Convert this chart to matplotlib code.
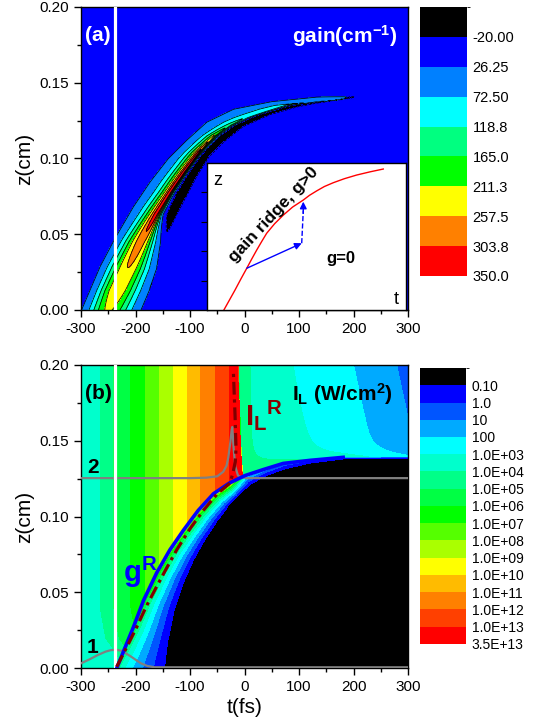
import numpy as np
import matplotlib
matplotlib.use("Agg")
import matplotlib.pyplot as plt
from matplotlib.cm import ScalarMappable
from matplotlib.colors import BoundaryNorm, ListedColormap
from matplotlib.ticker import FormatStrFormatter, MultipleLocator

plt.rcParams["font.family"] = ["Liberation Sans", "DejaVu Sans"]
plt.rcParams["mathtext.fontset"] = "custom"
plt.rcParams["mathtext.rm"] = "Liberation Sans"
plt.rcParams["mathtext.bf"] = "Liberation Sans:bold"
plt.rcParams["mathtext.it"] = "Liberation Sans:italic"
plt.rcParams["axes.unicode_minus"] = False

# ---- values (t in fs, z in cm) ----
# gain ridge g^R (blue line in b), also the backbone of the gain band in (a)
ridge_t = [-234.5, -220, -204, -185, -161, -137, -112, -85, -57, -28, 1, 35, 71, 120, 181]
ridge_z = [0.000, 0.013, 0.027, 0.045, 0.063, 0.078, 0.091, 0.104, 0.115, 0.122,
           0.127, 0.131, 0.135, 0.137, 0.139]
# ridge continued below the axis, only used to build the field of (b)
ridge_foot_t, ridge_foot_z = -249, -0.013

# intensity ridge I_L^R (dash-dot)
iridge_t = [-234.6, -216, -198, -180, -161, -143, -124.5, -100, -75.6, -50, -26.6,
            -21, -17, -15.6, -17.4, -20.5]
iridge_z = [0.001, 0.014, 0.027, 0.041, 0.054, 0.066, 0.078, 0.092, 0.104, 0.115,
            0.122, 0.129, 0.136, 0.145, 0.167, 0.196]

# gray pulse profiles 1 and 2
pulse1_t = [-300, -285, -269, -255, -245, -235, -225, -208, -198, -190, -178, -165, 300]
pulse1_z = [0.0033, 0.0058, 0.0088, 0.011, 0.012, 0.0122, 0.0115, 0.0077, 0.0052,
            0.0033, 0.0015, 0.0007, 0.0007]
pulse2_t = [-300, -100, -70, -50, -39, -33, -29.7, -26, -23.6, -22.4, -20, -17, -12,
            -5, 5, 300]
pulse2_z = [0.1253, 0.1253, 0.1256, 0.1265, 0.1295, 0.1335, 0.139, 0.149, 0.157,
            0.159, 0.145, 0.133, 0.127, 0.1257, 0.1253, 0.1253]

white_line_t = -238

# panel (a): leading (upper-left) and trailing (lower-right) edges of the gain band
band_left_t = [-299, -265, -238, -204, -173, -140, -106, -69, -20, 50, 132]
band_left_z = [0.0, 0.0286, 0.047, 0.068, 0.0846, 0.0998, 0.112, 0.124, 0.1325,
               0.1375, 0.1405]
band_right_t = [-190, -170, -149, -128, -106, -85, -63, -35, 0, 50, 100, 150, 206]
band_right_z = [0.0, 0.017, 0.035, 0.054, 0.0725, 0.088, 0.101, 0.111, 0.121, 0.129,
                0.134, 0.1375, 0.1403]
# at the ridge heights: peak gain, sharpness of the leading side, shift of the
# peak (fs), share of the trailing side over which the gain falls, negative lobe
gain_peak = [218, 250, 256, 285, 335, 348, 345, 330, 220, 150, 115, 95, 85, 70, 50]
gain_shape = [2, 2, 2, 1.7, 1.2, 1, 1, 1, 1, 1, 1.2, 1.4, 1.6, 1.8, 2]
gain_shift = [-16, -15, -11, -6, -2, 0, 0, 0, 0, 0, 0, 0, 0, 0, 0]
gain_fall = [1, 1, 0.95, 0.7, 0.3, 0.25, 0.25, 0.25, 0.25, 0.25, 0.25, 0.25, 0.25,
             0.25, 0.25]
gain_dip = [0, 0, 0, 5, 45, 90, 100, 110, 110, 110, 110, 100, 90, 70, 45]

# panel (b): boundary of the dark (I < 0.1) region
dark_t = [-143, -140, -131, -115, -94, -63, -27, 10, 50, 100, 150, 200, 300]
dark_z = [0.0, 0.0165, 0.036, 0.054, 0.071, 0.091, 0.108, 0.121, 0.129, 0.134,
          0.137, 0.1385, 0.139]
# log10 intensity just behind the ridge points (+ end at t=300)
ridge_logI = [5.0, 6.0, 7.0, 8.0, 8.7, 9.3, 9.9, 10.6, 11.5, 12.6, 4.0, 2.5, 1.5,
              1.0, 0.5, 0.2]
ridge_end_t, ridge_end_z = 300, 0.1395
# leading edge of the pulse: band edges along the top of (b)
lead_t = [-300, -264.5, -240, -208.3, -182.6, -156.3, -130, -104.3, -80, -53.5, -27.8, 0]
lead_logI = [3.4, 4, 5, 6, 7, 8, 9, 10, 11, 12, 13, 13.5]
# trailing part above the ridge
tail_t = [-60, 10, 89, 200, 279, 340]
tail_logI = [5.0, 4, 3, 2, 1, 0.4]
drop_z = [0.12, 0.134, 0.15, 0.2]
drop_t = [-2, -5, -7.7, -12]
low_z = [0, 0.01, 0.02, 0.04]
low_shift = [40, 30, 10, 0]

gain_bounds = [-66.25, -20, 26.25, 72.5, 118.75, 165, 211.25, 257.5, 303.75, 350]
gain_labels = ["-20.00", "26.25", "72.50", "118.8", "165.0", "211.3", "257.5",
               "303.8", "350.0"]
gain_colors = ["#000000", "#0000ff", "#0080ff", "#00ffff", "#00ff80", "#00ff00",
               "#ffff00", "#ff8000", "#ff0000"]
int_bounds = list(range(-2, 15))
int_labels = ["0.10", "1.0", "10", "100"] + ["1.0E+%02d" % k for k in range(3, 14)] + ["3.5E+13"]
int_colors = ["#000000", "#0000ff", "#0055ff", "#00aaff", "#00ffff", "#00ffcc",
              "#00ff88", "#00ff44", "#00ff00", "#55ff00", "#aaff00", "#ffff00",
              "#ffbb00", "#ff8000", "#ff4000", "#ff0000"]

# inset sketch (axes fraction)
sketch_u = [0.085, 0.113, 0.141, 0.17, 0.2, 0.225, 0.25, 0.275, 0.3, 0.34, 0.384,
            0.43, 0.484, 0.515, 0.551, 0.59, 0.635, 0.69, 0.752, 0.82, 0.886]
sketch_v = [0.0, 0.068, 0.136, 0.21, 0.284, 0.347, 0.408, 0.466, 0.522, 0.587, 0.646,
            0.70, 0.748, 0.78, 0.81, 0.84, 0.866, 0.893, 0.918, 0.94, 0.959]
arrow_start = (0.2, 0.284)
arrow_mid = (0.476, 0.454)
arrow_end = (0.484, 0.737)

ZS = 3000.0  # z scale so that distances are roughly isotropic on screen


def signed_distance(pt, pz, lt, lz):
    """Distance to a polyline, positive on the left/upper side, plus foot index."""
    pt = np.asarray(pt, float)
    pz = np.asarray(pz, float) * ZS
    lt = np.asarray(lt, float)
    lz = np.asarray(lz, float) * ZS
    best = np.full(pt.shape, np.inf)
    sign = np.ones(pt.shape)
    pos = np.zeros(pt.shape)
    for i in range(len(lt) - 1):
        dx, dy = lt[i + 1] - lt[i], lz[i + 1] - lz[i]
        u = np.clip(((pt - lt[i]) * dx + (pz - lz[i]) * dy) / (dx * dx + dy * dy), 0, 1)
        rx, ry = pt - (lt[i] + u * dx), pz - (lz[i] + u * dy)
        d = np.hypot(rx, ry)
        closer = d < best
        best = np.where(closer, d, best)
        sign = np.where(closer, np.where(dx * ry - dy * rx >= 0, 1.0, -1.0), sign)
        pos = np.where(closer, i + u, pos)
    return best * sign, pos


def along(values, pos):
    """Value along the backbone (first entry repeated for the foot below z=0)."""
    v = [values[0]] + list(values)
    return np.interp(pos, np.arange(len(v)), v)


t = np.linspace(-300, 300, 601)
z = np.linspace(0, 0.2, 401)
T, Z = np.meshgrid(t, z)

# ---- gain field for (a): position across the band on each horizontal slice ----
edge = 26.25
Lt = np.interp(Z, band_left_z, band_left_t)
Rt = np.interp(Z, band_right_z, band_right_t)
Ct = np.interp(Z, ridge_z, ridge_t) + np.interp(Z, ridge_z, gain_shift)
A = np.interp(Z, ridge_z, gain_peak)
S = np.interp(Z, ridge_z, gain_shape)
F = np.interp(Z, ridge_z, gain_fall)
N = np.interp(Z, ridge_z, gain_dip)
width = np.maximum(Rt - Lt, 1)
q = (T - Lt) / width
qp = np.clip((Ct - Lt) / width, 0.05, 0.95)
k = np.log(A / edge)
u = (qp - q) / qp
r = (q - qp) / (1 - qp)
G_left = A * np.exp(-k * np.abs(u) ** S)
G_fall = A * np.exp(-k * (r / F) ** 2)
G_dip = edge - (edge + N) * np.sin(np.pi * np.clip((r - F) / np.maximum(1 - F, 1e-3), 0, 1))
G_out = 0.99 * edge * np.exp(-((r - 1) / 0.1) ** 2)
G_right = np.where(r <= F, G_fall, np.where(r <= 1, G_dip, G_out))
G = np.where(q <= qp, G_left, G_right)
G = np.where(Z > max(band_left_z), 0.0, G)

# ---- intensity field for (b) ----
bot_t = [ridge_foot_t] + ridge_t + [ridge_end_t]
bot_z = [ridge_foot_z] + ridge_z + [ridge_end_z]
dcb, sb = signed_distance(T, Z, bot_t, bot_z)
dark_w = np.abs(signed_distance(bot_t[1:], bot_z[1:], dark_t, dark_z)[0])
P = along(ridge_logI, sb)
W = np.maximum(along(dark_w, sb), 3)
L_low = P - (P + 1.0) * (np.clip(-dcb, 0, None) / W) ** 0.55
ramp = np.interp(T - np.interp(Z, low_z, low_shift), lead_t, lead_logI)
teff = T - 600 * (0.2 - Z) * np.clip(T / 120, 0, 1)
tail = np.interp(teff, tail_t, tail_logI) + 1.0 * np.exp(-np.clip(dcb, 0, None) / 12)
L_up = np.where(T < np.interp(Z, drop_z, drop_t), ramp, tail)
LI = np.where(dcb >= 0, L_up, L_low)
LI = np.clip(LI, -5, 13.9)

# ---- figure ----
fig = plt.figure(figsize=(5.39, 7.27), dpi=100)
ax1 = fig.add_axes([0.1503, 0.5736, 0.6067, 0.4168])
ax2 = fig.add_axes([0.1503, 0.0807, 0.6067, 0.4176])
cax1 = fig.add_axes([0.7792, 0.6204, 0.0872, 0.3700])
cax2 = fig.add_axes([0.7792, 0.1142, 0.0853, 0.3796])

gain_levels = [-1e4] + gain_bounds[1:-1] + [1e4]
ax1.contourf(T, Z, G, levels=gain_levels, colors=gain_colors)
ax1.contour(T, Z, G, levels=gain_bounds[1:-1], colors="k", linewidths=0.55)

int_levels = [-10] + int_bounds[1:-1] + [14]
ax2.contourf(T, Z, LI, levels=int_levels, colors=int_colors)

for ax in (ax1, ax2):
    ax.axvline(white_line_t, color="white", lw=2.3, zorder=4)
    ax.set_xlim(-300, 300)
    ax.set_ylim(0, 0.2)
    ax.xaxis.set_major_locator(MultipleLocator(100))
    ax.xaxis.set_minor_locator(MultipleLocator(50))
    ax.yaxis.set_major_locator(MultipleLocator(0.05))
    ax.yaxis.set_minor_locator(MultipleLocator(0.025))
    ax.yaxis.set_major_formatter(FormatStrFormatter("%.2f"))
    ax.tick_params(which="major", direction="out", length=5, width=1, labelsize=11)
    ax.tick_params(which="minor", direction="out", length=3, width=1)
    ax.set_ylabel("z(cm)", fontsize=15, labelpad=4)
    for sp in ax.spines.values():
        sp.set_linewidth(1)
ax2.set_xlabel("t(fs)", fontsize=15, labelpad=3)

ax1.text(-293, 0.181, "(a)", color="white", fontsize=15, fontweight="bold", va="center")
ax1.text(280, 0.181, r"gain(cm$^{\mathbf{-1}}$)", color="white", fontsize=15,
         fontweight="bold", va="center", ha="right")

# inset sketch
axi = fig.add_axes([0.3840, 0.5736, 0.3692, 0.2022])
axi.set_xlim(0, 1)
axi.set_ylim(0, 1)
axi.plot(sketch_u, sketch_v, color="red", lw=1)
axi.annotate("", xy=arrow_mid, xytext=arrow_start,
             arrowprops=dict(arrowstyle="-|>", color="blue", lw=1, mutation_scale=10,
                             shrinkA=0, shrinkB=0))
axi.plot([arrow_mid[0], arrow_end[0]], [arrow_mid[1], arrow_end[1] - 0.06], "--",
         color="blue", lw=1)
axi.annotate("", xy=arrow_end, xytext=(arrow_end[0], arrow_end[1] - 0.08),
             arrowprops=dict(arrowstyle="-|>", color="blue", lw=1, mutation_scale=10,
                             shrinkA=0, shrinkB=0))
axi.text(0.334, 0.646, "gain ridge, g>0", rotation=47, fontsize=12.5, fontweight="bold",
         ha="center", va="center")
axi.text(0.671, 0.347, "g=0", fontsize=12, fontweight="bold", ha="center", va="center")
axi.text(0.055, 0.884, "z", fontsize=13, ha="center", va="center")
axi.text(0.953, 0.068, "t", fontsize=13, ha="center", va="center")
axi.set_xticks([])
axi.set_yticks([0.2, 0.4, 0.6, 0.8])
axi.tick_params(axis="y", direction="out", length=4, width=0.8, labelleft=False)
for sp in axi.spines.values():
    sp.set_linewidth(1)

# panel (b) lines
ax2.plot(pulse1_t, pulse1_z, color="#808080", lw=1.6, zorder=3)
ax2.plot(pulse2_t, pulse2_z, color="#808080", lw=1.6, zorder=3)
ax2.plot(ridge_t, ridge_z, color="#0000ff", lw=2.6, zorder=5)
ax2.plot(iridge_t, iridge_z, color="#800000", lw=2.3, zorder=6,
         linestyle=(0, (4, 1.5, 1, 1.5)))

ax2.text(-293, 0.181, "(b)", color="black", fontsize=15, fontweight="bold", va="center")
ax2.text(272, 0.181, r"$\mathbf{I}_{\mathbf{L}}$ (W/cm$^{\mathbf{2}}$)", fontsize=15,
         fontweight="bold", va="center", ha="right")
ax2.text(1, 0.160, r"$\mathbf{I}_{\mathbf{L}}{}^{\mathbf{R}}$", color="#8b0000",
         fontsize=21, va="baseline", ha="left")
ax2.text(-223, 0.057, r"$\mathbf{g}^{\mathbf{R}}$", color="#0000ff", fontsize=21,
         va="baseline", ha="left")
ax2.text(-289.5, 0.0103, "1", fontsize=15, fontweight="bold", va="baseline")
ax2.text(-289, 0.1287, "2", fontsize=15, fontweight="bold", va="baseline")

# colour scales, lowest band on top as in the original
for cax, bounds, colors, labels, size in (
        (cax1, gain_bounds, gain_colors, gain_labels, 10.5),
        (cax2, int_bounds, int_colors, int_labels, 10)):
    sm = ScalarMappable(norm=BoundaryNorm(bounds, len(colors)), cmap=ListedColormap(colors))
    cb = fig.colorbar(sm, cax=cax, ticks=bounds[1:])
    cb.ax.set_yticklabels(labels)
    cb.ax.invert_yaxis()
    cb.ax.tick_params(length=0, labelsize=size, pad=4)
    cb.outline.set_visible(False)

fig.savefig("out.png", dpi=100)
